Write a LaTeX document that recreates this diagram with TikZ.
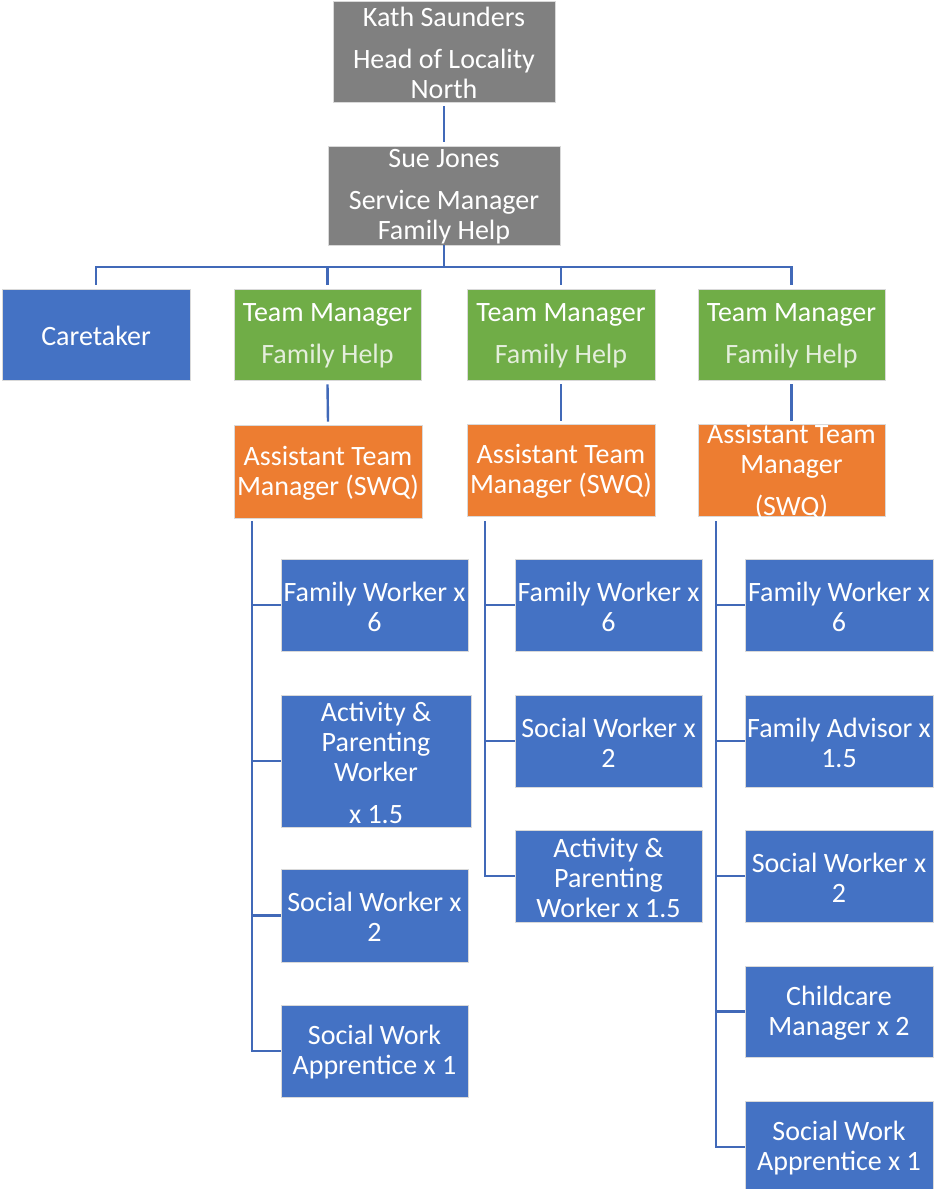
\documentclass[tikz,border=0pt]{standalone}
\usepackage{fontspec}
\setmainfont{Carlito}
\definecolor{cgray}{HTML}{808080}
\definecolor{cblue}{HTML}{4472C4}
\definecolor{cgreen}{HTML}{70AD47}
\definecolor{corange}{HTML}{ED7D31}
\definecolor{cline}{HTML}{4169B8}
\definecolor{clight}{HTML}{E4EEDC}
\newcommand\bx[7]{\node[boxbase,fill=#6,minimum width=#4pt,minimum height=#5pt] (#1) at (#2,#3) {};
  \node[txt] (#1t) at ([yshift=-1.5pt]#1.center) {#7};}
\begin{document}
\begin{tikzpicture}[x=1pt,y=-1pt,
  boxbase/.style={draw=white!85!black,line width=0.6pt,inner sep=0pt,rectangle},
  txt/.style={text=white,align=center,inner sep=0pt,font=\fontsize{28}{30}\selectfont},
  conn/.style={draw=cline,line width=2.4pt}]
\useasboundingbox (0,0) rectangle (935,1189);
% top
\bx{kath}{444}{51.5}{222}{101}{cgray}{Kath Saunders\\[12pt]Head of Locality\\North}
\bx{sue}{444}{195.5}{232}{99}{cgray}{Sue Jones\\[12pt]Service Manager\\Family Help}
% level 2
\bx{care}{96}{334.5}{188}{91}{cblue}{Caretaker}
\bx{tma}{327.5}{334.5}{187}{91}{cgreen}{Team Manager\\[12pt]\textcolor{clight}{Family Help}}
\bx{tmb}{561}{334.5}{188}{91}{cgreen}{Team Manager\\[12pt]\textcolor{clight}{Family Help}}
\bx{tmc}{791.5}{334.5}{187}{91}{cgreen}{Team Manager\\[12pt]\textcolor{clight}{Family Help}}
% ATMs
\bx{atma}{328}{471.5}{188}{93}{corange}{Assistant Team\\Manager (SWQ)}
\bx{atmb}{561}{470}{188}{92}{corange}{Assistant Team\\Manager (SWQ)}
\bx{atmc}{791.5}{470}{187}{92}{corange}{Assistant Team\\Manager\\[12pt](SWQ)}
% group 1
\bx{a1}{374.5}{605}{187}{92}{cblue}{Family Worker x\\6}
\bx{a2}{376}{761}{190}{132}{cblue}{Activity \&\\Parenting\\Worker\\[12pt]x 1.5}
\bx{a3}{374.5}{915.5}{187}{93}{cblue}{Social Worker x\\2}
\bx{a4}{374.5}{1051}{187}{92}{cblue}{Social Work\\Apprentice x 1}
% group 2
\bx{b1}{608.5}{605}{187}{92}{cblue}{Family Worker x\\6}
\bx{b2}{608.5}{741}{187}{92}{cblue}{Social Worker x\\2}
\bx{b3}{608.5}{876}{187}{92}{cblue}{Activity \&\\Parenting\\Worker x 1.5}
% group 3
\bx{c1}{839}{605}{188}{92}{cblue}{Family Worker x\\6}
\bx{c2}{839}{741}{188}{92}{cblue}{Family Advisor x\\1.5}
\bx{c3}{839}{876}{188}{92}{cblue}{Social Worker x\\2}
\bx{c4}{839}{1011.5}{188}{91}{cblue}{Childcare\\Manager x 2}
\bx{c5}{839}{1147}{188}{92}{cblue}{Social Work\\Apprentice x 1}
% connectors
\coordinate (bus) at (444,267);
\draw[conn] ([yshift=-4pt]kath.south) -- ([yshift=4pt]sue.north);
\draw[conn] (sue.south) -- (sue.south |- bus);
\draw[conn] ([yshift=4pt]care.north) -- (care.north |- bus) -| ([yshift=4pt]tmc.north);
\draw[conn] ([yshift=4pt]tma.north) -- (tma.north |- bus);
\draw[conn] ([yshift=4pt]tmb.north) -- (tmb.north |- bus);
\draw[conn] ([yshift=-4pt]tma.south) -- ([yshift=3pt]atma.north);
\draw[conn] ([yshift=-4pt]tmb.south) -- ([yshift=3pt]atmb.north);
\draw[conn] ([yshift=-4pt]tmc.south) -- ([yshift=3pt]atmc.north);
\coordinate (spa) at (252,521);
\coordinate (spb) at (485,521);
\coordinate (spc) at (716,521);
\draw[conn] (spa) |- (a4.west);
\draw[conn] (a1.west) -- (a1.west -| spa);
\draw[conn] (a2.west) -- (a2.west -| spa);
\draw[conn] (a3.west) -- (a3.west -| spa);
\draw[conn] (spb) |- (b3.west);
\draw[conn] (b1.west) -- (b1.west -| spb);
\draw[conn] (b2.west) -- (b2.west -| spb);
\draw[conn] (spc) |- (c5.west);
\draw[conn] (c1.west) -- (c1.west -| spc);
\draw[conn] (c2.west) -- (c2.west -| spc);
\draw[conn] (c3.west) -- (c3.west -| spc);
\draw[conn] (c4.west) -- (c4.west -| spc);
\end{tikzpicture}
\end{document}
